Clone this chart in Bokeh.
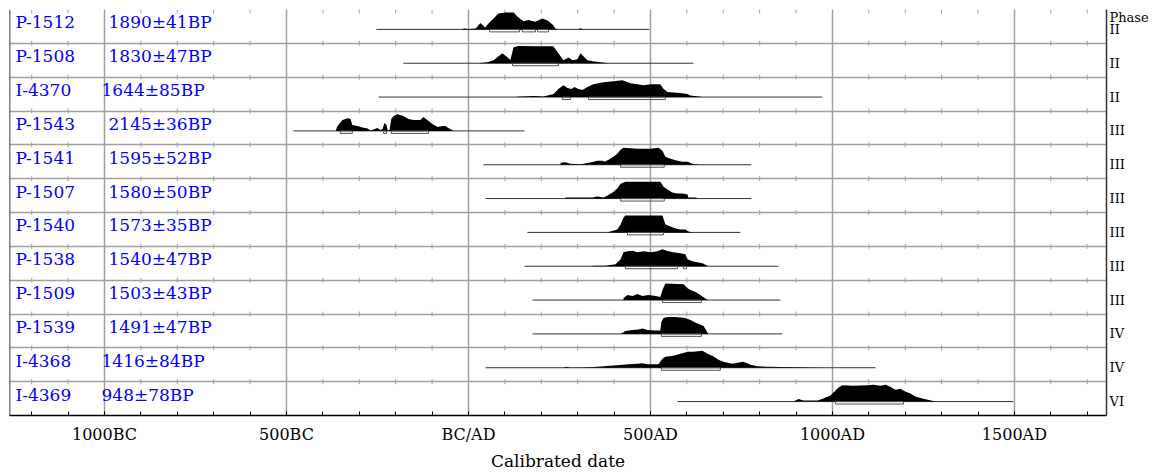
from bokeh.plotting import figure
from bokeh.models import Range1d, FixedTicker, Span, LinearAxis
from bokeh.embed import file_html
from bokeh.resources import INLINE
from bokeh.core.properties import value

# ---------------- data ----------------
lab_codes = ["P-1512", "P-1508", "I-4370", "P-1543", "P-1541", "P-1507",
             "P-1540", "P-1538", "P-1509", "P-1539", "I-4368", "I-4369"]
bp_dates = ["1890±41BP", "1830±47BP", "1644±85BP", "2145±36BP", "1595±52BP", "1580±50BP",
            "1573±35BP", "1540±47BP", "1503±43BP", "1491±47BP", "1416±84BP", "948±78BP"]
phases = ["II", "II", "II", "III", "III", "III", "III", "III", "III", "IV", "IV", "VI"]
phase_title = "Phase"

# extent of the calibration line (calendar years, negative = BC)
range_start = [-253, -179, -247, -481, 41, 47, 162, 154, 176, 176, 47, 574]
range_end = [497, 618, 972, 154, 777, 777, 747, 852, 857, 862, 1118, 1497]

# 68% ranges
ranges68 = [
    [(58, 140), (148, 184), (190, 220)],
    [(121, 247)],
    [(258, 280), (330, 541)],
    [(-352, -319), (-233, -225), (-212, -110)],
    [(418, 538)],
    [(418, 538)],
    [(437, 536)],
    [(431, 574), (591, 599)],
    [(533, 640)],
    [(530, 640)],
    [(530, 692)],
    [(1008, 1195)],
]

# probability distributions (year, relative probability, peak ~17)
dens_years = [
    [-18, -12, 0, 20, 27, 33, 40, 46, 55, 69, 82, 102, 124, 135, 151, 165, 184, 203, 217, 231, 239, 247, 300, 308, 316],
    [27, 52, 69, 82, 93, 107, 115, 124, 137, 192, 233, 247, 261, 275, 286, 299, 308, 316, 327, 341, 385],
    [132, 179, 206, 234, 247, 261, 272, 283, 291, 302, 313, 327, 343, 371, 398, 423, 445, 464, 481, 500, 527, 536, 547, 582, 602, 610, 643],
    [-365, -360, -346, -332, -324, -319, -305, -291, -277, -269, -261, -250, -242, -236, -231, -225, -222, -217, -212, -206, -195, -179, -165, -151, -132, -124, -113, -99, -85, -71, -63, -55, -41],
    [253, 266, 280, 308, 316, 341, 354, 368, 374, 385, 398, 409, 418, 426, 445, 464, 500, 522, 533, 541, 555, 574, 588, 602, 615, 637],
    [266, 341, 354, 371, 382, 396, 409, 418, 431, 500, 527, 536, 547, 560, 574, 588, 602, 604, 624, 632],
    [385, 409, 418, 426, 431, 533, 541, 555, 569, 582, 596, 604, 618],
    [341, 376, 404, 418, 426, 437, 451, 464, 481, 500, 519, 533, 549, 563, 582, 596, 602, 615, 629, 643, 659],
    [426, 437, 451, 464, 478, 494, 514, 527, 533, 541, 591, 602, 610, 624, 637, 657],
    [418, 431, 451, 467, 478, 492, 514, 527, 530, 536, 547, 569, 596, 610, 626, 646, 659],
    [261, 269, 280, 335, 426, 439, 464, 478, 492, 522, 533, 541, 563, 582, 602, 618, 643, 657, 670, 687, 700, 725, 739, 755, 775, 794, 821, 907, 967],
    [893, 907, 920, 959, 975, 994, 1003, 1016, 1027, 1057, 1096, 1112, 1132, 1146, 1159, 1173, 1187, 1200, 1214, 1228, 1247, 1283],
]
dens_heights = [
    [0, 1, 0.5, 1, 4, 6.5, 4, 2, 6, 11, 16, 17, 17, 12.7, 8.3, 9.5, 7.7, 11, 9, 5, 1, 0, 0, 1.2, 0],
    [0, 1, 3, 6.7, 10, 6, 3.3, 16, 17.3, 17, 17, 10, 3, 5.7, 3, 4, 10, 7, 3, 2, 0],
    [0.3, 1, 0.5, 3, 8, 12, 9, 8, 10, 8, 7, 10, 13, 15, 16, 17, 14, 13, 12, 13, 13, 8, 5, 4, 3, 1.5, 0],
    [0, 5, 11, 12.7, 12, 6, 5, 3.5, 2.5, 0.5, 1.5, 3, 1, 2, 8, 6, 0.5, 1, 12, 15, 16.7, 15, 12, 11, 11, 14, 11, 7, 4, 5, 5, 3, 0],
    [2, 2.5, 1, 0.5, 1, 2.7, 4, 4, 3, 5, 8, 11, 15, 17, 16.5, 16, 16, 17, 14, 8, 6, 4, 3, 3, 1, 0],
    [1, 1, 2, 1, 3, 6, 10, 15, 17, 17, 17, 12, 9, 6, 5, 5, 4, 1, 1, 0],
    [0.5, 3, 8, 15, 17, 17, 8, 6, 4, 3, 3, 1, 0],
    [0.5, 0.5, 2, 7, 14, 15, 15.6, 14, 15, 14, 15, 17, 15, 14, 13, 12, 7, 5, 4, 3, 0],
    [2, 5, 4, 6, 4, 5, 4, 3, 10, 16.7, 16, 12, 10, 8, 5, 0],
    [0, 3, 4, 4.5, 5.5, 4, 3.5, 3.5, 12, 16, 17, 17, 16, 14, 11, 8, 0],
    [0, 1, 0, 0.5, 3, 3.5, 4, 4.5, 3.5, 3.5, 9, 11, 12, 14, 16, 16, 17, 14, 12, 8, 6, 4, 5, 6, 3, 1.5, 1, 0.5, 0],
    [0, 2.5, 1, 1, 3, 6, 9, 14, 16.5, 16, 16.5, 17, 16, 17, 15, 12, 13, 10, 8, 5, 3, 0],
]

tick_values = [-1000, -500, 0, 500, 1000, 1500]
tick_labels = ["1000BC", "500BC", "BC/AD", "500AD", "1000AD", "1500AD"]

# ---------------- layout ----------------
X0, X1 = -1261, 1753
NROW = len(lab_codes)
ROW_PX = 34.0
PX = 1.0 / ROW_PX            # one pixel in y data units
SERIF = "DejaVu Serif"
GRID = "#a0a0a0"

p = figure(width=1162, height=473, x_range=Range1d(X0, X1), y_range=Range1d(0, NROW),
           output_backend="svg", toolbar_location=None, y_axis_location=None,
           min_border_left=9, min_border_right=56, min_border_top=9, min_border_bottom=0)
p.outline_line_color = None
p.background_fill_color = "white"

# grids
p.xgrid.ticker = FixedTicker(ticks=tick_values)
p.xgrid.grid_line_color = GRID
p.xgrid.grid_line_width = 1.5
p.ygrid.ticker = FixedTicker(ticks=list(range(NROW + 1)))
p.ygrid.grid_line_color = GRID
p.ygrid.grid_line_width = 1.5

# bottom axis
minor = [t for t in range(-1200, 1800, 100)]
p.xaxis.ticker = FixedTicker(ticks=tick_values, minor_ticks=minor)
p.xaxis.major_label_overrides = {v: s for v, s in zip(tick_values, tick_labels)}
p.xaxis.major_tick_in = 4
p.xaxis.major_tick_out = 0
p.xaxis.minor_tick_in = 4
p.xaxis.minor_tick_out = 0
p.xaxis.axis_line_color = "black"
p.xaxis.axis_line_width = 1.5
p.xaxis.major_tick_line_color = "black"
p.xaxis.minor_tick_line_color = "black"
p.xaxis.major_label_text_font = SERIF
p.xaxis.major_label_text_font_size = "16px"
p.xaxis.major_label_text_color = "black"
p.xaxis.major_label_standoff = 9
p.xaxis.axis_label = "Calibrated date"
p.xaxis.axis_label_text_font = SERIF
p.xaxis.axis_label_text_font_size = "17px"
p.xaxis.axis_label_text_font_style = "normal"
p.xaxis.axis_label_text_color = "black"
p.xaxis.axis_label_standoff = 4

# right axis: phase labels, its line forms the right border
phase_ticks = [NROW - i - 0.5 - 3 * PX for i in range(NROW)]
title_tick = NROW - 8 * PX
ry = LinearAxis(ticker=FixedTicker(ticks=phase_ticks + [title_tick]),
                major_label_overrides={**{t: s for t, s in zip(phase_ticks, phases)},
                                       title_tick: phase_title})
ry.major_tick_in = 0
ry.major_tick_out = 0
ry.minor_tick_in = 0
ry.minor_tick_out = 0
ry.axis_line_color = "#333333"
ry.axis_line_width = 1.5
ry.major_label_standoff = 3
ry.major_label_text_font = SERIF
ry.major_label_text_font_size = "13px"
ry.major_label_text_color = "black"
ry.major_label_text_align = "left"
p.add_layout(ry, "right")

# left border
p.add_layout(Span(location=X0, dimension="height", line_color="black", line_width=1.5))

# small tick marks on every row separator
sep_ticks = [t for t in minor if t % 500 != 0]
tx, ty0, ty1 = [], [], []
for sep in range(1, NROW):
    for t in sep_ticks:
        tx.append(t); ty0.append(sep - 2.5 * PX); ty1.append(sep + 2.5 * PX)
for t in sep_ticks:
    tx.append(t); ty0.append(NROW - 4 * PX); ty1.append(NROW)
p.segment(x0=tx, y0=ty0, x1=tx, y1=ty1, line_color=GRID, line_width=1)

# rows
SCALE = 0.5 / 17.0
for i in range(NROW):
    top = NROW - i
    base = top - 20 * PX
    p.segment(x0=[range_start[i]], y0=[base], x1=[range_end[i]], y1=[base],
              line_color="#333333", line_width=1)
    ys = [base + h * SCALE for h in dens_heights[i]]
    p.varea(x=dens_years[i], y1=[base] * len(ys), y2=ys, fill_color="black")
    lefts = [a for a, b in ranges68[i]]
    rights = [b for a, b in ranges68[i]]
    n = len(lefts)
    p.quad(left=lefts, right=rights, top=[base] * n, bottom=[base - 2.5 * PX] * n,
           fill_color=None, line_color="#505050", line_width=1)

# row labels
name_y = [NROW - i - 0.5 for i in range(NROW)]
p.text(x=[X0] * NROW, y=name_y, text=lab_codes, x_offset=6, y_offset=-4,
       text_baseline="middle", text_align="left",
       text_font=value(SERIF), text_font_size="17px", text_color="#0000ff")
date_off = [92 if c.startswith("I-") else 99 for c in lab_codes]
for i in range(NROW):
    p.text(x=[X0], y=[name_y[i]], text=[bp_dates[i]], x_offset=date_off[i], y_offset=-4,
           text_baseline="middle", text_align="left",
           text_font=value(SERIF), text_font_size="17px", text_color="#0000ff")

open("out.html", "w").write(file_html(p, INLINE))
